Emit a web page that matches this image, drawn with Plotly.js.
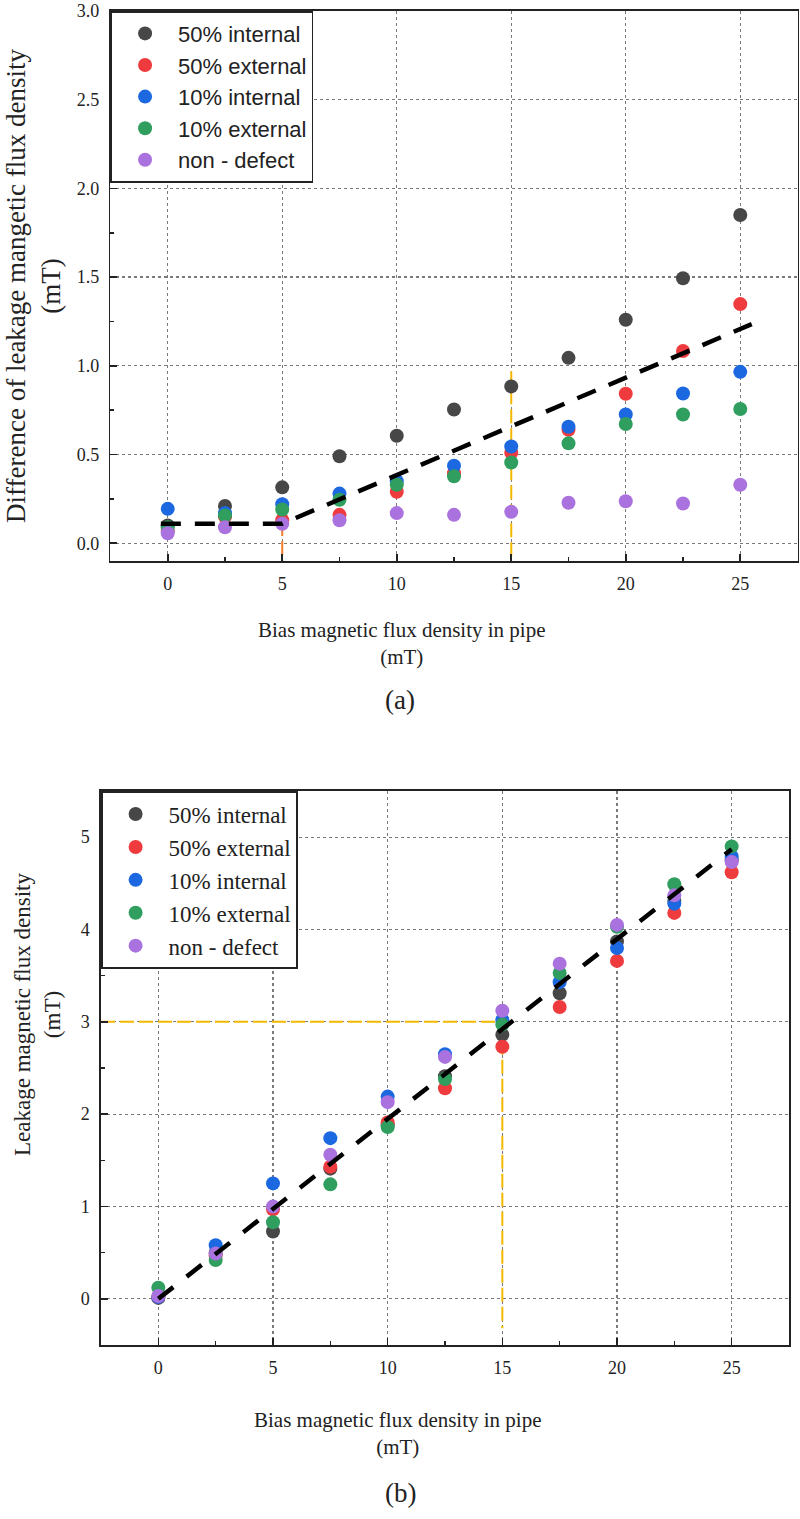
<!DOCTYPE html>
<html>
<head>
<meta charset="utf-8">
<script src="https://cdn.plot.ly/plotly-3.0.1.min.js"></script>
<style>html,body{margin:0;padding:0;background:#fff;}#chart{width:800px;height:1519px;}</style>
</head>
<body>
<div id="chart"></div>
<script>
// ---------- data ----------
var biasX = [0, 2.5, 5, 7.5, 10, 12.5, 15, 17.5, 20, 22.5, 25];
var seriesNames = ['50% internal', '50% external', '10% internal', '10% external', 'non - defect'];
var seriesColors = ['#474747', '#ef3b3e', '#1c68e0', '#2f9e5f', '#aa72de'];
var xTitleText = 'Bias magnetic flux density in pipe<br>(mT)';
var yTitleA = 'Difference of leakage mangetic flux density<br>(mT)';
var yTitleB = 'Leakage magnetic flux density<br>(mT)';

// (a) difference of leakage magnetic flux density (mT)
var diff50Internal = [0.10, 0.21, 0.315, 0.49, 0.606, 0.754, 0.884, 1.045, 1.26, 1.494, 1.85];
var diff50External = [0.07, 0.15, 0.13, 0.16, 0.29, 0.395, 0.51, 0.64, 0.843, 1.084, 1.348];
var diff10Internal = [0.194, 0.17, 0.22, 0.28, 0.35, 0.437, 0.545, 0.657, 0.726, 0.844, 0.966];
var diff10External = [0.09, 0.157, 0.19, 0.245, 0.33, 0.377, 0.455, 0.563, 0.672, 0.726, 0.757];
var diffNonDefect  = [0.056, 0.09, 0.11, 0.13, 0.17, 0.16, 0.177, 0.228, 0.237, 0.224, 0.33];
var diffFitX = [-0.3, 5, 25.5];
var diffFitY = [0.11, 0.11, 1.235];
var diffGuide5X = [5, 5],   diffGuide5Y = [0.12, -0.1];
var diffGuide15X = [15, 15], diffGuide15Y = [0.97, -0.1];

// (b) leakage magnetic flux density (mT)
var leak50Internal = [0.01, 0.50, 0.73, 1.41, 1.88, 2.41, 2.86, 3.31, 3.87, 4.31, 4.75];
var leak50External = [0.02, 0.47, 0.97, 1.43, 1.91, 2.28, 2.73, 3.16, 3.66, 4.18, 4.62];
var leak10Internal = [0.02, 0.58, 1.25, 1.74, 2.19, 2.65, 3.02, 3.43, 3.80, 4.28, 4.79];
var leak10External = [0.12, 0.42, 0.83, 1.24, 1.86, 2.38, 2.97, 3.53, 4.03, 4.49, 4.90];
var leakNonDefect  = [0.03, 0.49, 1.00, 1.56, 2.13, 2.62, 3.12, 3.63, 4.05, 4.37, 4.73];
var leakFitX = [0, 25];
var leakFitY = [0, 4.87];
var leakGuideHX = [-2.5, 15], leakGuideHY = [3, 3];
var leakGuideVX = [15, 15],   leakGuideVY = [3, -0.32];

// ---------- traces ----------
var traces = [];
function guide(x, y, color, xa, ya) {
  return {x: x, y: y, xaxis: xa, yaxis: ya, mode: 'lines', showlegend: false, hoverinfo: 'skip',
          line: {color: color, width: 2, dash: '14px,5px'}};
}
traces.push(guide(diffGuide5X, diffGuide5Y, '#f07b2a', 'x', 'y'));
traces.push(guide(diffGuide15X, diffGuide15Y, '#f5b800', 'x', 'y'));
traces.push(guide(leakGuideHX, leakGuideHY, '#f5b800', 'x2', 'y2'));
traces.push(guide(leakGuideVX, leakGuideVY, '#f5b800', 'x2', 'y2'));

var aSeries = [diff50Internal, diff50External, diff10Internal, diff10External, diffNonDefect];
var bSeries = [leak50Internal, leak50External, leak10Internal, leak10External, leakNonDefect];
aSeries.forEach(function (ys, i) {
  traces.push({x: biasX, y: ys, xaxis: 'x', yaxis: 'y', type: 'scatter', mode: 'markers',
    name: seriesNames[i], legend: 'legend', marker: {color: seriesColors[i], size: 14}});
});
bSeries.forEach(function (ys, i) {
  traces.push({x: biasX, y: ys, xaxis: 'x2', yaxis: 'y2', type: 'scatter', mode: 'markers',
    name: seriesNames[i], legend: 'legend2', marker: {color: seriesColors[i], size: 14}});
});
traces.push({x: diffFitX, y: diffFitY, xaxis: 'x', yaxis: 'y', mode: 'lines', showlegend: false,
  line: {color: '#000', width: 4.5, dash: '20px,14px'}});
traces.push({x: leakFitX, y: leakFitY, xaxis: 'x2', yaxis: 'y2', mode: 'lines', showlegend: false,
  line: {color: '#000', width: 4.5, dash: '19px,17px'}});

// ---------- layout ----------
var serif = 'Liberation Serif, Times New Roman, serif';
var sans = 'Liberation Sans, Arial, sans-serif';
function axisBase(extra) {
  var a = {
    showline: true, linecolor: '#222', linewidth: 1.6, mirror: true,
    ticks: 'inside', ticklen: 7, tickwidth: 1.6, tickcolor: '#222',
    showgrid: true, gridcolor: '#7a7a7a', gridwidth: 1.3, griddash: 'dot',
    zeroline: false, tickfont: {family: serif, size: 18, color: '#222'},
    ticklabelstandoff: 6
  };
  for (var k in extra) a[k] = extra[k];
  return a;
}
var titleFontX = {family: serif, size: 21, color: '#222'};

var layout = {
  width: 800, height: 1519,
  margin: {l: 0, r: 0, t: 0, b: 0},
  paper_bgcolor: '#fff', plot_bgcolor: '#fff',
  showlegend: true,
  xaxis: axisBase({domain: [0.1381, 0.9969], range: [-2.5, 27.5], anchor: 'y',
    tickvals: [0, 5, 10, 15, 20, 25],
    minor: {tickvals: [2.5, 7.5, 12.5, 17.5, 22.5], ticks: 'inside', ticklen: 4, tickcolor: '#222', showgrid: false}}),
  yaxis: axisBase({domain: [0.63068, 0.99276], range: [-0.1, 3.0], anchor: 'x',
    tickvals: [0, 0.5, 1, 1.5, 2, 2.5, 3], tickformat: '.1f',
    minor: {tickvals: [0.25, 0.75, 1.25, 1.75, 2.25, 2.75], ticks: 'inside', ticklen: 4, tickcolor: '#222', showgrid: false},
    title: {text: yTitleA, font: {family: serif, size: 27, color: '#222'}, standoff: 8}}),
  xaxis2: axisBase({domain: [0.12625, 0.98625], range: [-2.5, 27.5], anchor: 'y2',
    tickvals: [0, 5, 10, 15, 20, 25],
    minor: {tickvals: [2.5, 7.5, 12.5, 17.5, 22.5], ticks: 'inside', ticklen: 4, tickcolor: '#222', showgrid: false}}),
  yaxis2: axisBase({domain: [0.11455, 0.47926], range: [-0.5, 5.5], anchor: 'x2',
    tickvals: [0, 1, 2, 3, 4, 5],
    minor: {tickvals: [0.5, 1.5, 2.5, 3.5, 4.5], ticks: 'inside', ticklen: 4, tickcolor: '#222', showgrid: false}}),
  legend: {x: 0.1381, y: 0.99276, xanchor: 'left', yanchor: 'top', xref: 'paper', yref: 'paper',
    bgcolor: '#fff', bordercolor: '#222', borderwidth: 1.6, itemwidth: 56,
    font: {family: sans, size: 22, color: '#222'}, tracegroupgap: 0},
  legend2: {x: 0.12625, y: 0.47926, xanchor: 'left', yanchor: 'top', xref: 'paper', yref: 'paper',
    bgcolor: '#fff', bordercolor: '#222', borderwidth: 1.6, itemwidth: 56,
    font: {family: serif, size: 23, color: '#222'}, tracegroupgap: 0},
  annotations: [
    {text: xTitleText, xref: 'paper', yref: 'paper', x: 0.503, y: 1 - 643 / 1519, xanchor: 'center', yanchor: 'middle',
     showarrow: false, font: titleFontX},
    {text: xTitleText, xref: 'paper', yref: 'paper', x: 0.4975, y: 1 - 1433 / 1519, xanchor: 'center', yanchor: 'middle',
     showarrow: false, font: titleFontX},
    {text: yTitleB, xref: 'paper', yref: 'paper', x: 37 / 800, y: 1 - 1015 / 1519, xanchor: 'center', yanchor: 'middle',
     textangle: -90, showarrow: false, font: {family: serif, size: 23, color: '#222'}},
    {text: '(a)', xref: 'paper', yref: 'paper', x: 0.5, y: 1 - 700 / 1519, xanchor: 'center', yanchor: 'middle',
     showarrow: false, font: {family: serif, size: 27, color: '#222'}},
    {text: '(b)', xref: 'paper', yref: 'paper', x: 0.5, y: 1 - 1493 / 1519, xanchor: 'center', yanchor: 'middle',
     showarrow: false, font: {family: serif, size: 27, color: '#222'}}
  ]
};

Plotly.newPlot('chart', traces, layout, {staticPlot: true, displayModeBar: false});
</script>
</body>
</html>
